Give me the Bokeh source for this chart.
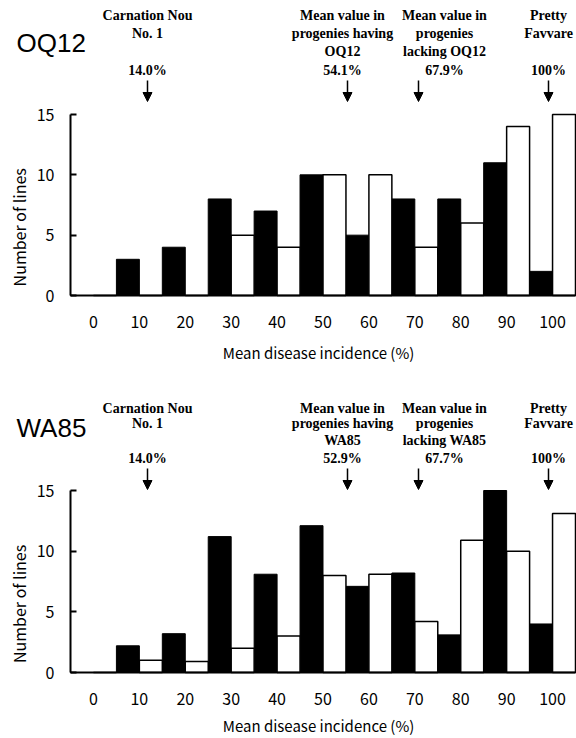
from bokeh.plotting import figure
from bokeh.layouts import column
from bokeh.models import Range1d, FixedTicker, Label, Arrow, NormalHead, LinearAxis
from bokeh.embed import file_html
from bokeh.resources import INLINE

# ---- data ----
categories = ["0", "10", "20", "30", "40", "50", "60", "70", "80", "90", "100"]
oq12_having = [0, 3, 4, 8, 7, 10, 5, 8, 8, 11, 2]
oq12_lacking = [0, 0, 0, 5, 4, 10, 10, 4, 6, 14, 15]
wa85_having = [0, 2.2, 3.2, 11.2, 8.1, 12.1, 7.1, 8.2, 3.1, 15, 4]
wa85_lacking = [0, 1, 0.9, 2, 3, 8, 8.1, 4.2, 10.9, 10, 13.1]

oq12_notes = [
    (["Carnation Nou", "No. 1"], "14.0%"),
    (["Mean value in", "progenies having", "OQ12"], "54.1%"),
    (["Mean value in", "progenies", "lacking OQ12"], "67.9%"),
    (["Pretty", "Favvare"], "100%"),
]
wa85_notes = [
    (["Carnation Nou", "No. 1"], "14.0%"),
    (["Mean value in", "progenies having", "WA85"], "52.9%"),
    (["Mean value in", "progenies", "lacking WA85"], "67.7%"),
    (["Pretty", "Favvare"], "100%"),
]

# layout (pixels)
W = 576
AXIS_LEFT = 70      # pixel x of the y axis (= category -0.5)
AXIS_RIGHT = 575    # pixel x of category 10.5
TEXT_X = [147, 342, 444, 548]
ARROW_X = [147, 347, 418, 548]

TICK_FONT = "Noto Sans CJK JP"
SERIF = "Liberation Serif"


def make_panel(name, having, lacking, notes, height, axis_py, px_per_unit,
               line_ys, pct_y, arrow_y0, arrow_y1, name_y, xtitle_y):
    ux = (AXIS_RIGHT - AXIS_LEFT) / 11.0

    def dx(px):
        return (px - AXIS_LEFT) / ux - 0.5

    def dy(py):
        return (axis_py - py) / px_per_unit

    p = figure(width=W, height=height, x_range=Range1d(dx(0), dx(W)),
               y_range=Range1d(dy(height), dy(0)), output_backend="svg",
               toolbar_location=None, x_axis_location=None,
               y_axis_location=None, min_border=0)
    p.outline_line_color = None
    p.xgrid.visible = False
    p.ygrid.visible = False
    p.background_fill_color = "white"
    p.border_fill_color = "white"

    idx = list(range(len(categories)))
    p.vbar(x=[i - 0.25 for i in idx], top=having, bottom=0, width=0.5,
           fill_color="black", line_color="black", line_width=1)
    p.vbar(x=[i + 0.25 for i in idx], top=lacking, bottom=0, width=0.5,
           fill_color="white", line_color="black", line_width=1.5)

    # y axis
    ya = LinearAxis(fixed_location=-0.5, bounds=(0, 15),
                    ticker=FixedTicker(ticks=[0, 5, 10, 15]))
    ya.minor_tick_line_color = None
    ya.major_tick_in = 6
    ya.major_tick_out = 0
    ya.major_tick_line_width = 2
    ya.axis_line_width = 2
    ya.major_label_standoff = 16
    ya.major_label_text_font = TICK_FONT
    ya.major_label_text_font_size = "16px"
    ya.major_label_text_color = "black"
    p.add_layout(ya, "left")

    # x axis
    xa = LinearAxis(fixed_location=0, bounds=(-0.5, 10.5),
                    ticker=FixedTicker(ticks=idx))
    xa.major_label_overrides = {i: c for i, c in zip(idx, categories)}
    xa.minor_tick_line_color = None
    xa.major_tick_in = 0
    xa.major_tick_out = 0
    xa.axis_line_width = 2
    xa.major_label_standoff = 20
    xa.major_label_text_font = TICK_FONT
    xa.major_label_text_font_size = "16px"
    xa.major_label_text_color = "black"
    p.add_layout(xa, "below")

    # axis titles
    p.add_layout(Label(x=dx(318), y=dy(xtitle_y), text="Mean disease incidence (%)",
                       text_align="center", text_baseline="middle",
                       text_font=TICK_FONT, text_font_size="15px",
                       text_color="black"))
    p.add_layout(Label(x=dx(18), y=5.8, text="Number  of lines", angle=90,
                       angle_units="deg", text_align="center",
                       text_baseline="middle", text_font=TICK_FONT,
                       text_font_size="16px", text_color="black"))
    # panel name
    p.add_layout(Label(x=dx(16), y=dy(name_y), text=name, text_align="left",
                       text_baseline="middle", text_font="Liberation Sans",
                       text_font_size="26px", text_color="black"))

    for (lines, pct), tx, ax in zip(notes, TEXT_X, ARROW_X):
        for ln, ly in zip(lines, line_ys):
            p.add_layout(Label(x=dx(tx), y=dy(ly), text=ln, text_align="center",
                               text_baseline="middle", text_font=SERIF,
                               text_font_style="bold", text_font_size="14px",
                               text_color="black"))
        p.add_layout(Label(x=dx(tx), y=dy(pct_y), text=pct, text_align="center",
                           text_baseline="middle", text_font=SERIF,
                           text_font_style="bold", text_font_size="14px",
                           text_color="black"))
        p.add_layout(Arrow(end=NormalHead(size=9, fill_color="black",
                                          line_color="black"),
                           x_start=dx(ax), y_start=dy(arrow_y0),
                           x_end=dx(ax), y_end=dy(arrow_y1),
                           line_color="black", line_width=1.5))
    return p


p1 = make_panel("OQ12", oq12_having, oq12_lacking, oq12_notes,
                height=369, axis_py=295, px_per_unit=181 / 15,
                line_ys=[15, 33, 51], pct_y=70, arrow_y0=80, arrow_y1=101,
                name_y=42, xtitle_y=352)
p2 = make_panel("WA85", wa85_having, wa85_lacking, wa85_notes,
                height=369, axis_py=303, px_per_unit=182 / 15,
                line_ys=[39, 54, 71], pct_y=89, arrow_y0=99, arrow_y1=120,
                name_y=58, xtitle_y=356)

layout = column(p1, p2, spacing=0)
open("out.html", "w").write(file_html(layout, INLINE))
